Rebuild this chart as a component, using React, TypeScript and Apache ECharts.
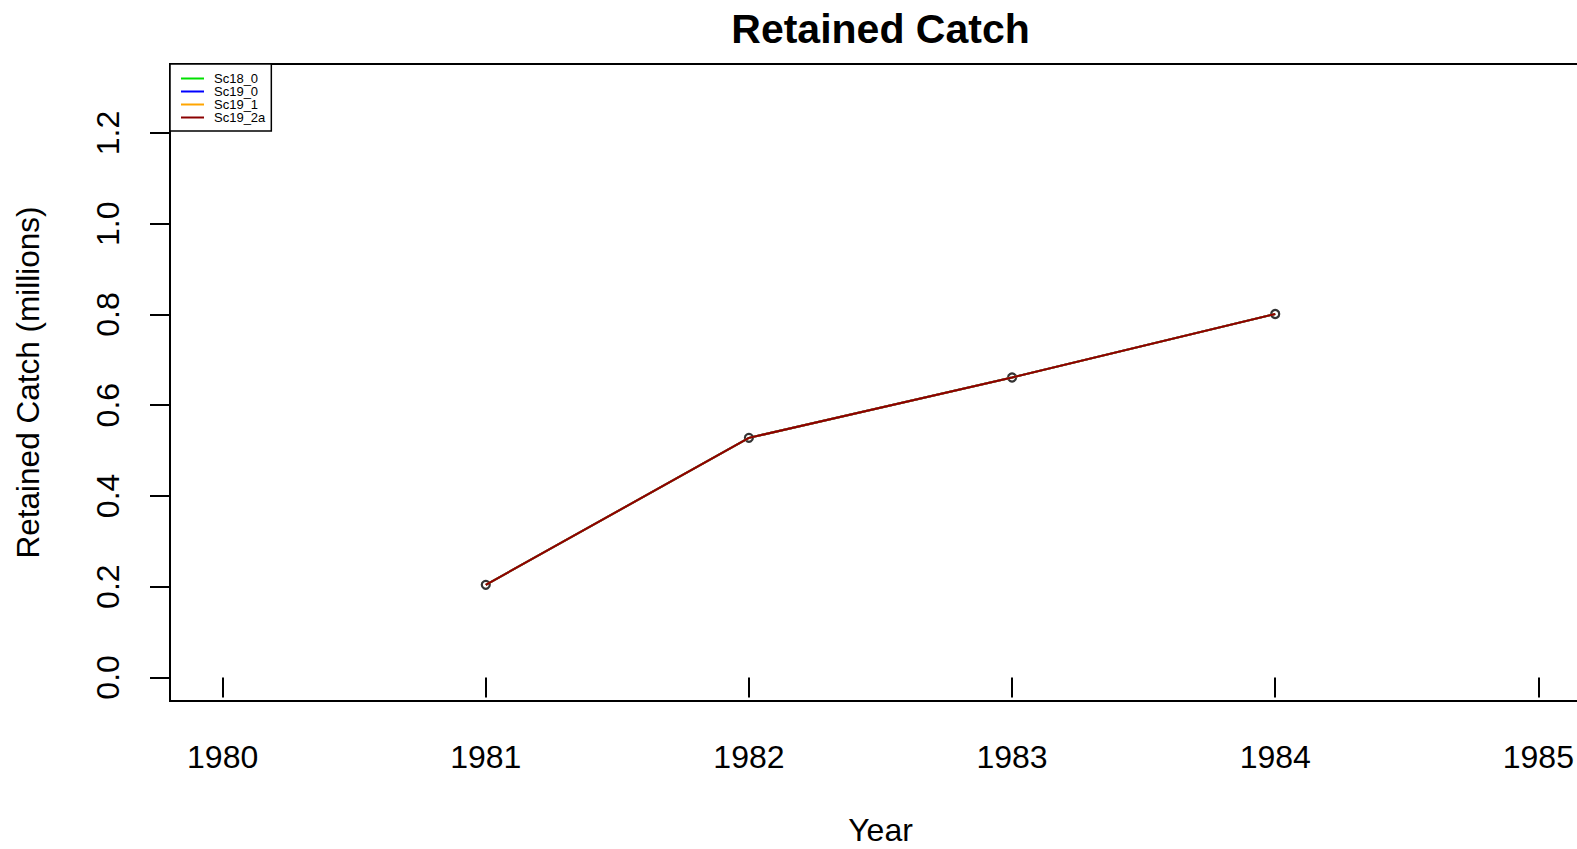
import React, { useEffect, useRef } from "react";
import * as echarts from "echarts";

const years = [1981, 1982, 1983, 1984];
const sc18_0 = [0.204, 0.528, 0.661, 0.801];
const sc19_0 = [0.204, 0.528, 0.661, 0.801];
const sc19_1 = [0.204, 0.528, 0.661, 0.801];
const sc19_2a = [0.204, 0.528, 0.661, 0.801];
const seriesNames = ["Sc18_0", "Sc19_0", "Sc19_1", "Sc19_2a"];
const seriesColors = ["#00E000", "#0000FF", "#FFA500", "#8B0000"];
const xTicks = [1980, 1981, 1982, 1983, 1984, 1985];
const yTicks = [0, 0.2, 0.4, 0.6, 0.8, 1.0, 1.2];

const FONT = "'Liberation Sans', Arial, sans-serif";

export default function App() {
  const ref = useRef<HTMLDivElement>(null);
  useEffect(() => {
    if (!ref.current) return;
    const chart = echarts.init(ref.current, null, { renderer: "svg" });
    const all = [sc18_0, sc19_0, sc19_1, sc19_2a];
    const pts = years.map((y, i) => [y, sc19_2a[i]]);
    const option: any = {
      animation: false,
      backgroundColor: "#ffffff",
      textStyle: { fontFamily: FONT },
      title: {
        text: "Retained Catch",
        left: 880.5,
        textAlign: "center",
        top: 8,
        padding: 0,
        textStyle: { fontFamily: FONT, fontSize: 41, fontWeight: "bold", color: "#000" },
      },
      legend: {
        data: seriesNames,
        orient: "vertical",
        left: 170,
        top: 64,
        padding: [8, 6, 7, 11],
        itemGap: 0,
        itemWidth: 23,
        itemHeight: 2,
        icon: "rect",
        borderColor: "#000",
        borderWidth: 1.5,
        backgroundColor: "#fff",
        textStyle: { fontFamily: FONT, fontSize: 13, lineHeight: 12.8, color: "#000", padding: [0, 0, 0, 5] },
      },
      grid: {
        left: 170,
        top: 64,
        right: -14,
        bottom: 148,
        outerBoundsMode: "none",
        containLabel: false,
        show: true,
        borderColor: "#000",
        borderWidth: 2,
        backgroundColor: "transparent",
      },
      xAxis: {
        type: "value",
        min: 1979.8,
        max: 1985.2,
        name: "Year",
        nameLocation: "middle",
        nameGap: 115,
        nameTextStyle: { fontFamily: FONT, fontSize: 32, lineHeight: 28, color: "#000" },
        axisLine: { show: false },
        splitLine: { show: false },
        axisTick: { show: true, inside: false, length: 20, customValues: xTicks, lineStyle: { color: "#000", width: 2 } },
        axisLabel: {
          customValues: xTicks,
          margin: 40,
          fontFamily: FONT,
          fontSize: 32,
          color: "#000",
          formatter: (v: number) => String(Math.round(v)),
        },
      },
      yAxis: {
        type: "value",
        min: -0.052,
        max: 1.352,
        name: "Retained Catch (millions)",
        nameLocation: "middle",
        nameGap: 126,
        nameTextStyle: { fontFamily: FONT, fontSize: 31.5, color: "#000" },
        axisLine: { show: false },
        splitLine: { show: false },
        axisTick: { show: true, inside: false, length: 20, customValues: yTicks, lineStyle: { color: "#000", width: 2 } },
        axisLabel: {
          customValues: yTicks,
          rotate: 90,
          margin: 46,
          fontFamily: FONT,
          fontSize: 32,
          color: "#000",
          formatter: (v: number) => v.toFixed(1),
        },
      },
      series: [
        {
          type: "scatter",
          name: "points",
          data: pts,
          symbol: "circle",
          symbolSize: 8,
          itemStyle: { color: "#fff", borderColor: "#000", borderWidth: 2.2 },
          z: 1,
          silent: true,
        },
        ...seriesNames.map((n, k) => ({
          type: "line",
          name: n,
          data: years.map((y, i) => [y, all[k][i]]),
          showSymbol: false,
          symbol: "none",
          lineStyle: { color: seriesColors[k], width: 2 },
          itemStyle: { color: seriesColors[k] },
          z: 2 + k,
        })),
      ],
    };
    chart.setOption(option);
    return () => chart.dispose();
  }, []);
  return (
    <div
      ref={ref}
      style={{ position: "fixed", left: 0, top: 0, width: 1577, height: 849, background: "#fff" }}
    />
  );
}
